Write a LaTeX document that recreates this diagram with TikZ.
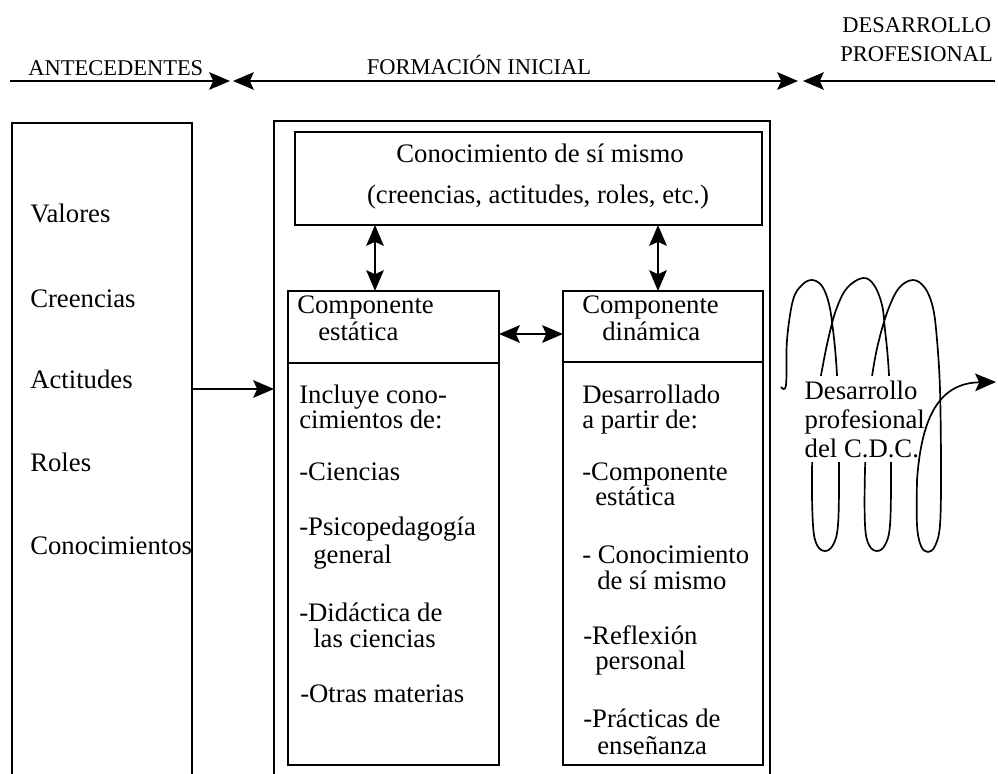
\documentclass[tikz,border=0pt]{standalone}
\usepackage{fontspec}
\setmainfont{Liberation Serif}
\usetikzlibrary{arrows.meta}
\newcommand{\boxline}[4]{\node[txt] (#1) at (#2,#3) {#4};}
\begin{document}
\begin{tikzpicture}[x=0.025cm, y=-0.025cm,
    >={Stealth[length=5.2mm, width=4.4mm, inset=1mm]},
    ln/.style={line width=1.2pt},
    txt/.style={font=\fontsize{19}{19}\selectfont, inner sep=0pt, anchor=base west},
    ctxt/.style={txt, anchor=base},
    head/.style={font=\fontsize{16}{16}\selectfont, inner sep=0pt, anchor=base west},
    frame/.style={draw, line width=1.2pt, inner sep=0pt, outer sep=0pt, anchor=north west}]
\useasboundingbox (0,0) rectangle (998,774);

% time line
\coordinate (tl0) at (10,81);
\coordinate (tl1) at (230,81);
\coordinate (tl2) at (233,81);
\coordinate (tl3) at (798,81);
\coordinate (tl4) at (803,81);
\coordinate (tl5) at (995,81);
\draw[ln,->] (tl0) -- (tl1);
\draw[ln,<->] (tl2) -- (tl3);
\draw[ln,<-] (tl4) -- (tl5);
\node[head] (antec) at (28,76) {ANTECEDENTES};
\node[head, anchor=base] (formi) at (479,75) {FORMACIÓN INICIAL};
\node[head] (desa) at (842,33) {DESARROLLO};
\node[head] (prof) at (840,62) {PROFESIONAL};

% boxes
\node[frame, minimum width=4.5cm, minimum height=17.5cm] (ante) at (12,123) {};
\node[frame, minimum width=12.4cm, minimum height=17.5cm] (fi) at (274,121) {};
\node[frame, minimum width=11.675cm, minimum height=2.325cm] (self) at (295,132) {};
\node[frame, minimum width=5.275cm, minimum height=11.85cm] (estat) at (288,291) {};
\node[frame, minimum width=5cm, minimum height=11.85cm] (dinam) at (563,291) {};
\draw[ln] (estat.west |- 0,363) -- (estat.east |- 0,363);
\draw[ln] (dinam.west |- 0,362) -- (dinam.east |- 0,362);

% arrows
\draw[ln,->] (ante.east |- 0,389) -- (fi.west |- 0,389);
\draw[ln,<->] (self.south -| 375,0) -- (estat.north -| 375,0);
\draw[ln,<->] (self.south -| 658,0) -- (dinam.north -| 658,0);
\draw[ln,<->] (estat.east |- 0,334) -- (dinam.west |- 0,334);

% antecedentes
\boxline{val}{30}{223}{Valores}
\boxline{cre}{30}{307}{Creencias}
\boxline{act}{30}{388}{Actitudes}
\boxline{rol}{30}{471}{Roles}
\boxline{con}{30}{554}{Conocimientos}

% conocimiento de si mismo
\node[ctxt] (self1) at (540,163) {Conocimiento de sí mismo};
\node[ctxt] (self2) at (538,204) {(creencias, actitudes, roles, etc.)};

% componente estatica
\boxline{ec1}{297}{313}{Componente}
\boxline{ec2}{318}{340}{estática}
\boxline{es1}{299}{403}{Incluye cono-}
\boxline{es2}{299}{428}{cimientos de:}
\boxline{es3}{299}{480}{-Ciencias}
\boxline{es4}{299}{535}{-Psicopedagogía}
\boxline{es5}{313}{563}{general}
\boxline{es6}{299}{621}{-Didáctica de}
\boxline{es7}{313}{647}{las ciencias}
\boxline{es8}{300}{702}{-Otras materias}

% componente dinamica
\boxline{dc1}{582}{313}{Componente}
\boxline{dc2}{602}{340}{dinámica}
\boxline{ds1}{582}{403}{Desarrollado}
\boxline{ds2}{582}{428}{a partir de:}
\boxline{ds3}{582}{480}{-Componente}
\boxline{ds4}{595}{505}{estática}
\boxline{ds5}{582}{563}{- Conocimiento}
\boxline{ds6}{597}{589}{de sí mismo}
\boxline{ds7}{583}{644}{-Reflexión}
\boxline{ds8}{595}{669}{personal}
\boxline{ds9}{583}{727}{-Prácticas de}
\boxline{ds10}{597}{754}{enseñanza}

% espiral
\draw[ln] plot[smooth, tension=0.6] coordinates {(781,387) (786,385) (787,340) (793,300) (802,285) (812,280) (822,286) (829,304) (833,330) (836,360) (838,400) (839,470) (838,525) (833,545) (825,551) (817,545) (813,525) (812,470) (815,410) (822,370) (828,340) (836,310) (847,288) (863,278) (874,285) (882,305) (885,330) (888,360) (890,400) (891,470) (890,525) (885,545) (877,551) (869,545) (865,525) (865,470) (868,410) (873,370) (879,340) (888,310) (899,288) (913,280) (925,288) (933,308) (937,340) (940,390) (941,470) (940,525) (935,546) (928,552) (921,546) (917,525) (917,480)};
\coordinate (cend) at (917,480);
\coordinate (cout) at (996,382);
\node[font=\fontsize{19}{20.6}\selectfont, fill=white, inner xsep=1pt, inner ysep=3pt, anchor=west, align=left] (cdc) at (803,419) {Desarrollo\\profesional\\del C.D.C.};
\draw[ln,->] (cend) .. controls (921,425) and (935,383) .. (cout);
\end{tikzpicture}
\end{document}
